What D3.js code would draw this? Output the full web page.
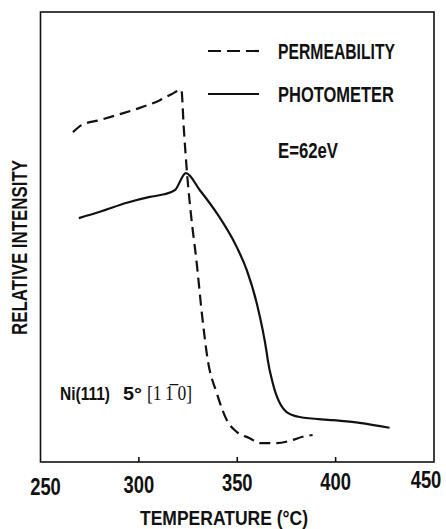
<!DOCTYPE html>
<html>
<head>
<meta charset="utf-8">
<script src="https://cdn.jsdelivr.net/npm/d3@7"></script>
<style>
  body { margin: 0; background: #fff; }
  text { font-family: "Liberation Sans", Arial, sans-serif; font-weight: bold; fill: #111; }
</style>
</head>
<body>
<svg id="chart" width="446" height="529"></svg>
<script>
// temperature (°C) and relative intensity (arbitrary units 0-100)
const permTemp = [266.5, 271, 280.2, 288.8, 300.5, 310.7, 316.8, 321.6, 322.8, 324.6, 326.4, 329.4, 332, 335, 339.6, 344.7, 349.7, 356.3, 361.4, 370, 378.2, 383.2, 388.3];
const permVal  = [73.3, 74.9, 76, 77.1, 78.7, 80.4, 81.8, 82.7, 74.4, 63.5, 55.3, 44.2, 33.1, 22.7, 15.3, 9.3, 6.7, 5.3, 4.2, 4.2, 4.9, 5.6, 6];

const photoTemp = [269.5, 280.2, 293.9, 305.6, 312.8, 318.3, 323.9, 331, 339.6, 349.7, 354.8, 359.9, 365, 365.5, 368, 375.1, 381.7, 398.5, 412.2, 427.4];
const photoVal  = [54.2, 55.6, 57.6, 58.9, 59.5, 60.4, 64.2, 60.4, 55.3, 47.8, 42.7, 35.3, 24.2, 22.7, 17.6, 11.1, 10, 9.3, 8.7, 7.6];

const xTicks = [250, 300, 350, 400, 450];
const innerTicks = [300, 350, 400];
const legendLabels = ["PERMEABILITY", "PHOTOMETER"];

const svg = d3.select('#chart');
const margin = {left: 40.5, right: 12, top: 12, bottom: 67};
const W = 446, H = 529;

const x = d3.scaleLinear().domain([250, 450]).range([margin.left, W - margin.right]);
const y = d3.scaleLinear().domain([0, 100]).range([H - margin.bottom, margin.top]);

// frame
svg.append('rect')
  .attr('x', x(250)).attr('y', y(100))
  .attr('width', x(450) - x(250)).attr('height', y(0) - y(100))
  .attr('fill', 'none').attr('stroke', '#111').attr('stroke-width', 1.6);

// small inward ticks on the bottom edge
svg.selectAll('.tick-in')
  .data(innerTicks)
  .enter().append('line')
  .attr('x1', d => x(d)).attr('x2', d => x(d))
  .attr('y1', y(0)).attr('y2', y(0) - 5)
  .attr('stroke', '#111').attr('stroke-width', 1.6);

// tick labels (end ones nudged in, like the original); squeezed to a condensed look
const nudge = {250: 5, 450: -8};
svg.selectAll('.tick-label')
  .data(xTicks)
  .enter().append('text')
  .attr('transform', (d, i) => `translate(${x(d) + (nudge[d] || 0)},${495 - i * 1.8}) scale(0.8,1)`)
  .attr('text-anchor', 'middle')
  .attr('font-size', 23)
  .text(d => d);

svg.append('text')
  .attr('x', 140).attr('y', 525)
  .attr('font-size', 20)
  .attr('textLength', 168)
  .attr('lengthAdjust', 'spacingAndGlyphs')
  .text('TEMPERATURE  (°C)');

svg.append('text')
  .attr('transform', 'translate(27,335) rotate(-90)')
  .attr('font-size', 22)
  .attr('textLength', 175)
  .attr('lengthAdjust', 'spacingAndGlyphs')
  .text('RELATIVE INTENSITY');

// curves
const line = d3.line()
  .x(d => x(d[0]))
  .y(d => y(d[1]))
  .curve(d3.curveMonotoneX);

svg.append('path')
  .datum(d3.zip(photoTemp, photoVal))
  .attr('d', line)
  .attr('fill', 'none').attr('stroke', '#111').attr('stroke-width', 2.2);

svg.append('path')
  .datum(d3.zip(permTemp, permVal))
  .attr('d', line)
  .attr('fill', 'none').attr('stroke', '#111').attr('stroke-width', 2.2)
  .attr('stroke-dasharray', '11,6');

// legend
const legend = svg.append('g');
const legY = [51, 94];
const legW = [117, 116];
legend.selectAll('line')
  .data(legendLabels)
  .enter().append('line')
  .attr('x1', 208).attr('x2', 259)
  .attr('y1', (d, i) => legY[i]).attr('y2', (d, i) => legY[i])
  .attr('stroke', '#111').attr('stroke-width', 2.2)
  .attr('stroke-dasharray', (d, i) => i === 0 ? '13,6' : null);
legend.selectAll('text')
  .data(legendLabels)
  .enter().append('text')
  .attr('x', 278).attr('y', (d, i) => legY[i] + 7.5)
  .attr('font-size', 22)
  .attr('textLength', (d, i) => legW[i])
  .attr('lengthAdjust', 'spacingAndGlyphs')
  .text(d => d);

svg.append('text')
  .attr('x', 278).attr('y', 158)
  .attr('font-size', 22)
  .attr('textLength', 60)
  .attr('lengthAdjust', 'spacingAndGlyphs')
  .text('E=62eV');

// sample label
svg.append('text')
  .attr('x', 60).attr('y', 400)
  .attr('font-size', 19)
  .attr('textLength', 50)
  .attr('lengthAdjust', 'spacingAndGlyphs')
  .text('Ni(111)');
svg.append('text')
  .attr('x', 123).attr('y', 400)
  .attr('font-size', 19)
  .attr('textLength', 19)
  .attr('lengthAdjust', 'spacingAndGlyphs')
  .text('5°');
svg.append('text')
  .attr('x', 147).attr('y', 400)
  .style('font-family', '"Liberation Serif", "DejaVu Serif", serif')
  .style('font-weight', 'normal')
  .attr('font-size', 20)
  .attr('textLength', 45)
  .attr('lengthAdjust', 'spacingAndGlyphs')
  .text('[1\u20091\u0305\u20090]');
</script>
</body>
</html>
